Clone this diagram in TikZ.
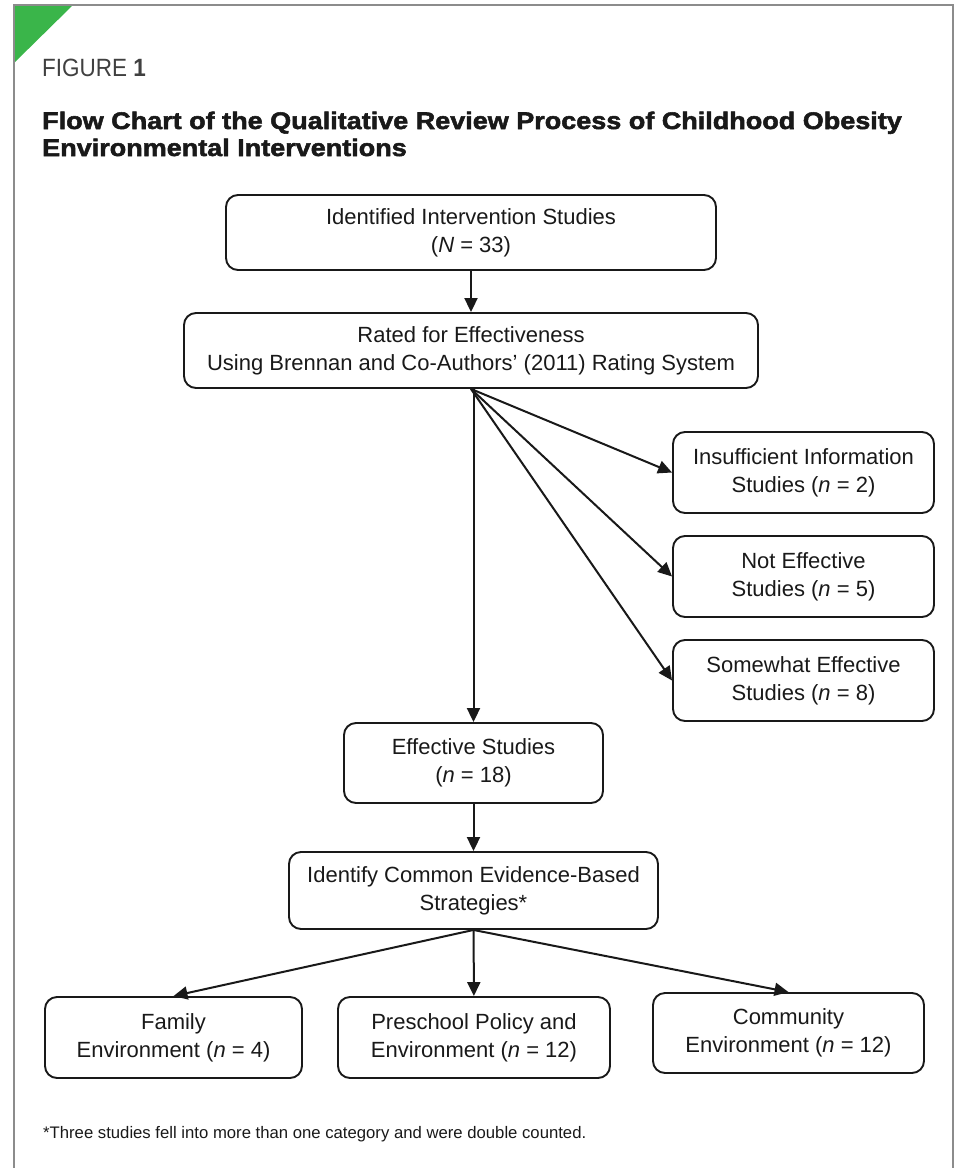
\documentclass[tikz,border=0pt]{standalone}
\usepackage{fontspec}
\setmainfont{Liberation Sans}
\newfontfamily\titlefont[FakeStretch=1.125,BoldFeatures={FakeBold=2.2}]{Liberation Sans}
\newfontfamily\figfont[FakeStretch=0.9]{Liberation Sans}
\usetikzlibrary{arrows.meta}
\definecolor{figgreen}{RGB}{58,181,74}
\definecolor{framegray}{RGB}{140,140,140}
\definecolor{ink}{RGB}{25,25,25}
\tikzset{
  box/.style={draw=ink, line width=1.9pt, rounded corners=12pt, align=center,
    inner sep=0pt, font=\fontsize{22}{28}\selectfont, text=ink},
  arr/.style={-{Triangle[length=14pt,width=13pt]}, line width=2pt, draw=ink},
}
\begin{document}
\begin{tikzpicture}[x=1pt,y=-1pt]
\useasboundingbox (0,0) rectangle (961,1168);
% frame
\fill[figgreen] (14,5) -- (73,5) -- (14,63) -- cycle;
\draw[framegray, line width=1.5pt] (14,1168) -- (14,5) -- (953,5) -- (953,1168);
% heading
\node[anchor=base west, inner sep=0pt, text=black!75] (fig) at (42,76)
  {\fontsize{25}{30}\figfont FIGURE \bfseries 1};
\node[anchor=base west, inner sep=0pt, text=ink, align=left,
  font={\fontsize{24}{27}\titlefont\bfseries}] (title) at (42,156)
  {Flow Chart of the Qualitative Review Process of Childhood Obesity\\Environmental Interventions};
% boxes
\node[box, minimum width=490pt, minimum height=75pt] (b1) at (471,232.5)
  {Identified Intervention Studies\\(\textit{N} = 33)};
\node[box, minimum width=574pt, minimum height=75pt] (b2) at (471,350.5)
  {Rated for Effectiveness\\Using Brennan and Co-Authors’ (2011) Rating System};
\node[box, minimum width=261pt, minimum height=81pt] (b3) at (803.5,472.5)
  {Insufficient Information\\Studies (\textit{n} = 2)};
\node[box, minimum width=261pt, minimum height=81pt] (b4) at (803.5,576.5)
  {Not Effective\\Studies (\textit{n} = 5)};
\node[box, minimum width=261pt, minimum height=81pt] (b5) at (803.5,680.5)
  {Somewhat Effective\\Studies (\textit{n} = 8)};
\node[box, minimum width=259pt, minimum height=80pt] (b6) at (473.5,763)
  {Effective Studies\\(\textit{n} = 18)};
\node[box, minimum width=369pt, minimum height=77pt] (b7) at (473.5,890.5)
  {Identify Common Evidence-Based\\Strategies*};
\node[box, minimum width=257pt, minimum height=81pt] (b8) at (173.5,1037.5)
  {Family\\Environment (\textit{n} = 4)};
\node[box, minimum width=272pt, minimum height=81pt] (b9) at (474,1037.5)
  {Preschool Policy and\\Environment (\textit{n} = 12)};
\node[box, minimum width=271pt, minimum height=80pt] (b10) at (788.5,1033)
  {Community\\Environment (\textit{n} = 12)};
% connectors
\draw[arr] (b1) -- (b2);
\draw[arr] (b2.south) -- (b3.west);
\draw[arr] (b2.south) -- (b4.west);
\draw[arr] (b2.south) -- (b5.west);
\draw[arr] (b6.north |- b2.south) -- (b6.north);
\draw[arr] (b6) -- (b7);
\draw[arr] (b7.south) -- (b8.north);
\draw[arr] (b7) -- (b9);
\draw[arr] (b7.south) -- (b10.north);
% footnote
\node[anchor=base west, inner sep=0pt, text=ink,
  font={\fontsize{16.7}{20}\selectfont}] (note) at (43,1138)
  {*Three studies fell into more than one category and were double counted.};
\end{tikzpicture}
\end{document}
